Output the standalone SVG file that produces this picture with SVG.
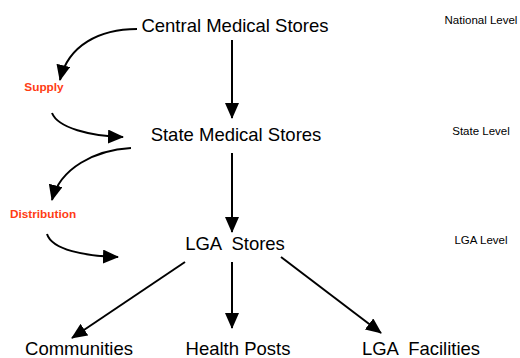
<svg xmlns="http://www.w3.org/2000/svg" width="520" height="358" viewBox="0 0 520 358">
<defs>
<marker id="ah" viewBox="0 0 16 14" refX="15" refY="7" markerWidth="16" markerHeight="14" markerUnits="userSpaceOnUse" orient="auto">
<path d="M0,0 L16,7 L0,14 Z" fill="#000"/>
</marker>
</defs>
<style>
text{white-space:pre}
.n{font-family:"Liberation Sans",Arial,sans-serif;font-size:18.5px;fill:#000;text-anchor:middle}
.lv{font-family:"Liberation Sans",Arial,sans-serif;font-size:11.5px;fill:#000;text-anchor:middle}
.lb{font-family:"Liberation Sans",Arial,sans-serif;font-size:11.8px;font-weight:bold;fill:#ff3c14;text-anchor:middle}
.c{fill:none;stroke:#000;stroke-width:2;marker-end:url(#ah)}
</style>
<rect width="520" height="358" fill="#fff"/>
<g id="connectors">
<path class="c" d="M232,40 L232,118"/>
<path class="c" d="M232,153 L232,232"/>
<path class="c" d="M232,262 L232,328"/>
<path class="c" d="M185,262 L72,338"/>
<path class="c" d="M281,257 L381,333"/>
<path class="c" d="M137,29 C100,29 68,45 60,80"/>
<path class="c" d="M52,113 C58,128 90,136 123,137"/>
<path class="c" d="M131,148 C95,150 60,168 52,200"/>
<path class="c" d="M47,234 C52,250 85,256 118,257"/>
</g>
<g id="central"><text class="n" x="235" y="32">Central Medical Stores</text></g>
<g id="state"><text class="n" x="236" y="141">State Medical Stores</text></g>
<g id="lga"><text class="n" x="235" y="250" xml:space="preserve">LGA  Stores</text></g>
<g id="communities"><text class="n" x="79" y="355">Communities</text></g>
<g id="healthposts"><text class="n" x="238" y="355">Health Posts</text></g>
<g id="lgafacilities"><text class="n" x="421" y="355" xml:space="preserve">LGA  Facilities</text></g>
<g id="national-level"><text class="lv" x="481" y="24">National Level</text></g>
<g id="state-level"><text class="lv" x="481" y="135">State Level</text></g>
<g id="lga-level"><text class="lv" x="481" y="244">LGA Level</text></g>
<g id="supply"><text class="lb" x="44" y="91">Supply</text></g>
<g id="distribution"><text class="lb" x="43" y="218">Distribution</text></g>
</svg>
